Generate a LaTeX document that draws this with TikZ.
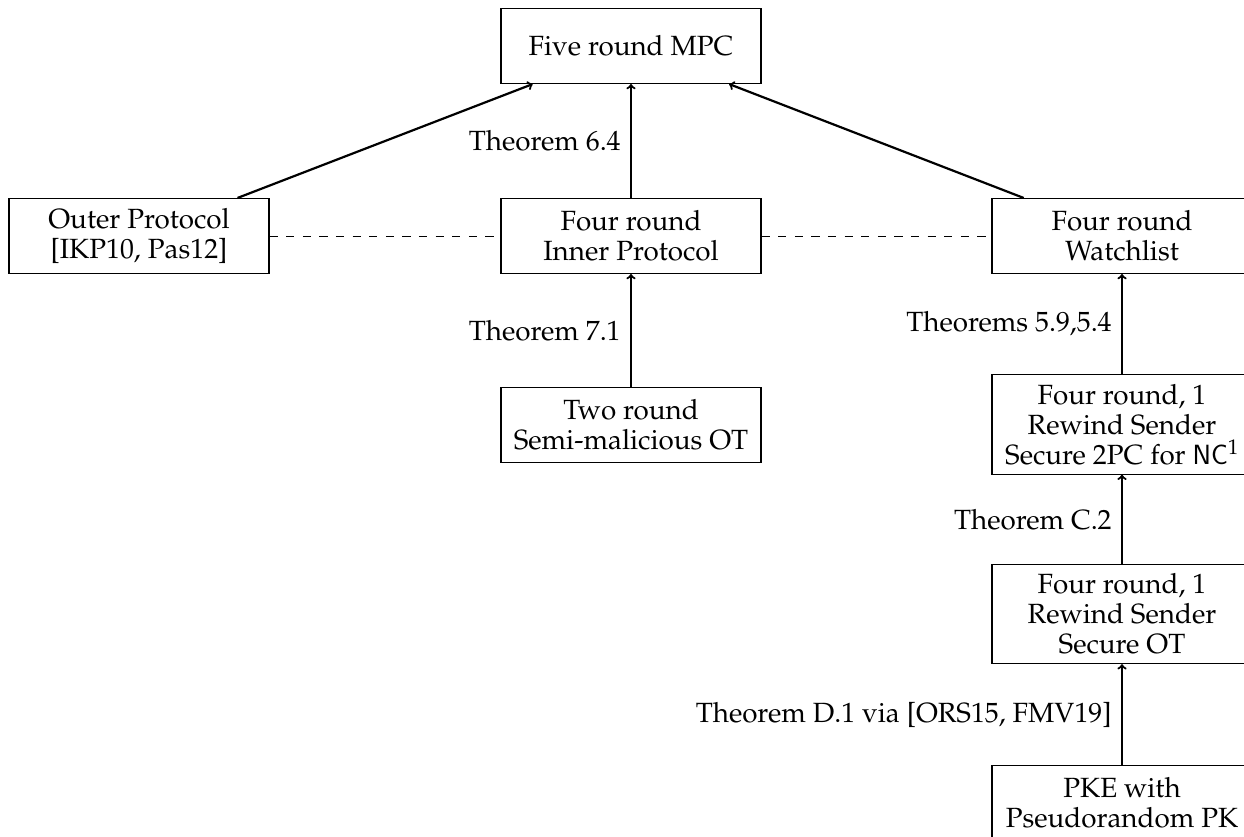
\RequirePackage{fix-cm}
\documentclass[tikz,border=0pt]{standalone}
\usepackage[T1]{fontenc}
\usepackage{mathpazo}
\newcommand{\cmsans}[1]{{\fontencoding{OT1}\fontfamily{cmss}\selectfont #1}}
\begin{document}
\begin{tikzpicture}[x=1pt,y=-1pt,
  txt/.style={font=\fontsize{27.8}{30}\selectfont, inner sep=9.3pt},
  box/.style={txt, draw, line width=1.1pt, minimum width=260pt, minimum height=75pt, align=center},
  arr/.style={->, line width=2.2pt},
  lbl/.style={txt, midway, left},
  dsh/.style={line width=0.9pt, dash pattern=on 8.3pt off 8.3pt}]
\useasboundingbox (0,0) rectangle (1244,837);
\node[box] (mpc)   at (631,46)  {Five round MPC};
\node[box] (outer) at (139,236) {Outer Protocol\\{[IKP10, Pas12]}};
\node[box] (inner) at (631,236) {Four round\\Inner Protocol};
\node[box] (watch) at (1122,236) {Four round\\Watchlist};
\node[box] (two)   at (631,425) {Two round\\Semi-malicious OT};
\node[box] (tpc)   at (1122,424.5) {Four round, 1\\Rewind Sender\\Secure 2PC for \cmsans{NC}\textsuperscript{1}};
\node[box] (ot)    at (1122,614) {Four round, 1\\Rewind Sender\\Secure OT};
\node[box] (pke)   at (1122,803) {PKE with\\Pseudorandom PK};
\draw[arr] (outer) -- (mpc);
\draw[arr] (watch) -- (mpc);
\draw[arr] (inner) -- node[lbl] {Theorem 6.4} (mpc);
\draw[arr] (two) -- node[lbl] {Theorem 7.1} (inner);
\draw[arr] (tpc) -- node[lbl] {Theorems 5.9,5.4} (watch);
\draw[arr] (ot) -- node[lbl] {Theorem C.2} (tpc);
\draw[arr] (pke) -- node[lbl] {Theorem D.1 via [ORS15, FMV19]} (ot);
\draw[dsh] (outer) -- (inner);
\draw[dsh] (inner) -- (watch);
\end{tikzpicture}
\end{document}
